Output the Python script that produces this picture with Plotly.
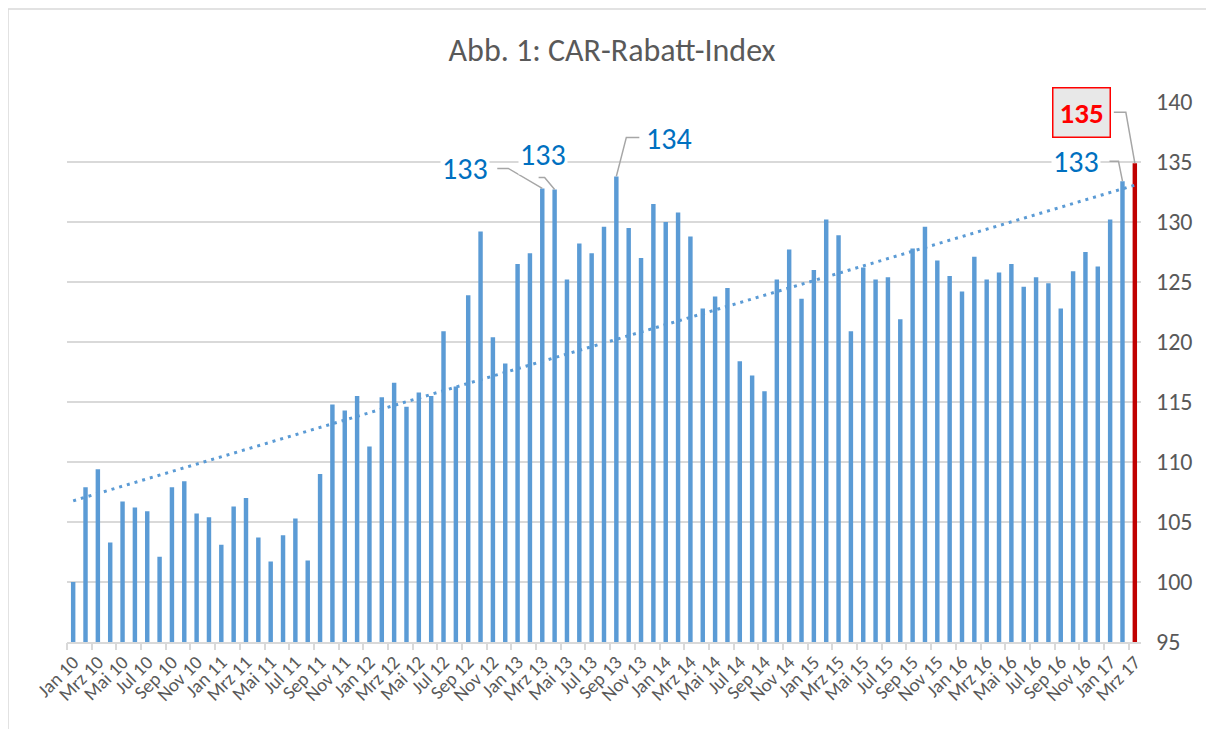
import numpy as np
import plotly.graph_objects as go

months = ["Jan", "Feb", "Mrz", "Apr", "Mai", "Jun", "Jul", "Aug", "Sep", "Okt", "Nov", "Dez"]
categories = [f"{m} {y:02d}" for y in range(10, 18) for m in months][:87]

index_values = [
    100.0, 107.9, 109.4, 103.3, 106.7, 106.2, 105.9, 102.1, 107.9, 108.4, 105.7, 105.4,
    103.1, 106.3, 107.0, 103.7, 101.7, 103.9, 105.3, 101.8, 109.0, 114.8, 114.3, 115.5,
    111.3, 115.4, 116.6, 114.6, 115.8, 115.5, 120.9, 116.3, 123.9, 129.2, 120.4, 118.2,
    126.5, 127.4, 132.8, 132.7, 125.2, 128.2, 127.4, 129.6, 133.8, 129.5, 127.0, 131.5,
    130.0, 130.8, 128.8, 122.8, 123.8, 124.5, 118.4, 117.2, 115.9, 125.2, 127.7, 123.6,
    126.0, 130.2, 128.9, 120.9, 126.2, 125.2, 125.4, 121.9, 127.8, 129.6, 126.8, 125.5,
    124.2, 127.1, 125.2, 125.8, 126.5, 124.6, 125.4, 124.9, 122.8, 125.9, 127.5, 126.3,
    130.2, 133.4, 134.9,
]

# labelled points: (index, text, text offset px (dx, up), leader path points px (dx, up))
labels = [
    (38, "133", (-77, 20), [(0, 0), (-34, 20), (-45, 20)]),
    (39, "133", (-12, 35), [(0, 0), (-10, 12), (-16, 12)]),
    (44, "134", (53, 38), [(0, 0), (10, 39), (23, 39)]),
    (85, "133", (-46, 20), [(0, 0), (-4, 20), (-13, 20)]),
]
last_label = (86, "135", (-53, 51), [(0, 0), (-9, 51), (-21, 51)])

tick_labels = categories[::2]
n = len(categories)
x = np.arange(n)

BLUE = "#5B9BD5"
RED = "#C00000"
GRAY_TXT = "#595959"
GRID = "#D9D9D9"
FONT = "Calibri, Carlito, Lato, sans-serif"

colors = [BLUE] * (n - 1) + [RED]

fig = go.Figure()
fig.add_trace(go.Bar(x=x, y=index_values, marker=dict(color=colors, line=dict(width=0)),
                     width=0.36, showlegend=False))

coef = np.polyfit(x, np.array(index_values), 1)
trend = np.polyval(coef, x)
fig.add_trace(go.Scatter(x=x, y=trend, mode="lines",
                         line=dict(color=BLUE, width=3, dash="3px,5px"), showlegend=False))

# hidden axis carrying tick marks at category boundaries
fig.add_trace(go.Scatter(x=[x[0]], y=[95], xaxis="x2", mode="markers",
                         marker=dict(opacity=0), showlegend=False, hoverinfo="skip"))

def leader(idx, pts):
    path = "M " + " L ".join(f"{dx},{up}" for dx, up in pts)
    return dict(type="path", xref="x", yref="y", xsizemode="pixel", ysizemode="pixel",
                xanchor=idx, yanchor=index_values[idx], path=path,
                line=dict(color="#A6A6A6", width=1.5))

shapes = []
annotations = []
for idx, txt, (dx, up), pts in labels:
    shapes.append(leader(idx, pts))
    annotations.append(dict(x=idx, y=index_values[idx], xref="x", yref="y", text=txt,
                            showarrow=False, xshift=dx, yshift=up, bgcolor="white",
                            font=dict(family=FONT, size=30, color="#0070C0")))
idx, txt, (dx, up), pts = last_label
shapes.append(leader(idx, pts))
annotations.append(dict(x=idx, y=index_values[idx], xref="x", yref="y", text=f"<b>{txt}</b>",
                        showarrow=False, xshift=dx, yshift=up, bgcolor="#E8E8E8",
                        bordercolor="#FF0000", borderwidth=1.5, borderpad=6,
                        font=dict(family=FONT, size=29, color="#FF0000")))

# page body has an 8px offset; compensate so the plot area sits where the reference has it
OFF = 8
FIG_W, FIG_H = 1214 - OFF, 729 - OFF
L, T = 67 - OFF, 102 - OFF
R, B = FIG_W - (1141 - OFF), FIG_H - (642 - OFF)
W, H = FIG_W - L - R, FIG_H - T - B
bx0 = (8 - OFF - L) / W
bx1 = (FIG_W + 20 - L) / W
by0 = (FIG_H - B - FIG_H - 20) / H
by1 = (FIG_H - B - (9 - OFF)) / H
shapes.append(dict(type="path", xref="paper", yref="paper",
                   path=f"M {bx0},{by0} L {bx0},{by1} L {bx1},{by1}",
                   line=dict(color=GRID, width=1.5), layer="below"))

fig.update_layout(
    width=FIG_W, height=FIG_H,
    margin=dict(l=L, r=R, t=T, b=B),
    paper_bgcolor="white", plot_bgcolor="white",
    title=dict(text="Abb. 1: CAR-Rabatt-Index", x=(612 - OFF - L) / W, xref="paper", xanchor="center",
               y=1 - (50 - OFF) / FIG_H, yanchor="middle",
               font=dict(family=FONT, size=32, color=GRAY_TXT)),
    xaxis=dict(range=[-0.5, n - 0.5], tickmode="array", tickvals=list(x[::2]),
               ticktext=tick_labels, tickangle=-45, ticks="", showgrid=False,
               showline=True, linecolor=GRID, linewidth=1.5, zeroline=False,
               tickfont=dict(family=FONT, size=19, color=GRAY_TXT)),
    xaxis2=dict(range=[-0.5, n - 0.5], overlaying="x", side="bottom", tickmode="array",
                tickvals=list(np.arange(-0.5, n, 2)), ticktext=[""] * len(np.arange(-0.5, n, 2)),
                ticks="outside", ticklen=7, tickwidth=1.5, tickcolor=GRID,
                showgrid=False, showline=False, zeroline=False),
    yaxis=dict(range=[95, 140], side="right", tickmode="linear", tick0=95, dtick=5,
               showgrid=True, gridcolor=GRID, gridwidth=1.5, zeroline=False,
               showline=False, ticks="", ticklabelstandoff=14,
               tickfont=dict(family=FONT, size=24, color=GRAY_TXT)),
    bargap=0.6,
    shapes=shapes,
    annotations=annotations,
)

fig.write_html("out.html")
